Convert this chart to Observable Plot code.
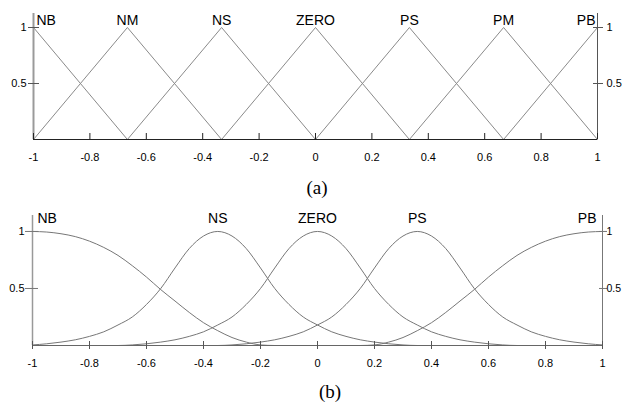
<!DOCTYPE html>
<html><head><meta charset="utf-8">
<script src="https://cdn.jsdelivr.net/npm/d3@7"></script>
<script src="https://cdn.jsdelivr.net/npm/@observablehq/plot@0.6"></script>
<style>
body{margin:0;background:#fff;}
#wrap{position:relative;width:622px;height:406px;overflow:hidden;font-family:"Liberation Sans",Arial,sans-serif;}
.panel{position:absolute;left:0;}
.cap{position:absolute;font-family:"Liberation Serif","Times New Roman",serif;font-size:19px;line-height:19px;color:#000;transform:translateX(-50%);white-space:nowrap}
</style></head><body>
<div id="wrap">
 <div class="panel" id="pa" style="top:0"></div>
 <div class="cap" style="top:178px;left:317px">(a)</div>
 <div class="panel" id="pb" style="top:206px"></div>
 <div class="cap" style="top:382px;left:330px">(b)</div>
</div>
<script>
// ---- shared ticks ----
const xTicks = [-1, -0.8, -0.6, -0.4, -0.2, 0, 0.2, 0.4, 0.6, 0.8, 1];
const xTickLabels = ["-1", "-0.8", "-0.6", "-0.4", "-0.2", "0", "0.2", "0.4", "0.6", "0.8", "1"];
const yTicks = [0.5, 1];
const yTickLabels = ["0.5", "1"];

// ---- panel (a): triangular membership functions ----
const aNames = ["NB", "NM", "NS", "ZERO", "PS", "PM", "PB"];
const aLeft  = [null, -1, -0.667, -0.333, 0, 0.333, 0.667];
const aPeak  = [-1, -0.667, -0.333, 0, 0.333, 0.667, 1];
const aRight = [-0.667, -0.333, 0, 0.333, 0.667, 1, null];

// ---- panel (b): smooth membership functions ----
const bNames = ["NB", "NS", "ZERO", "PS", "PB"];
const bPeak  = [-1, -0.35, 0, 0.35, 1];
const bX = [-1,-0.95,-0.9,-0.85,-0.8,-0.75,-0.7,-0.65,-0.6,-0.55,-0.5,-0.45,-0.4,-0.35,-0.3,-0.25,-0.2,-0.15,-0.1,-0.05,0,
            0.05,0.1,0.15,0.2,0.25,0.3,0.35,0.4,0.45,0.5,0.55,0.6,0.65,0.7,0.75,0.8,0.85,0.9,0.95,1];
const bNB   = [1,0.995,0.98,0.955,0.915,0.86,0.79,0.7,0.6,0.49,0.39,0.29,0.2,0.13,0.07,0.03,0.005,0,0,0,0,
               0,0,0,0,0,0,0,0,0,0,0,0,0,0,0,0,0,0,0,0];
const bNS   = [0.005,0.015,0.03,0.05,0.08,0.12,0.18,0.25,0.36,0.5,0.68,0.85,0.96,1,0.96,0.85,0.68,0.5,0.36,0.25,0.18,
               0.12,0.08,0.05,0.03,0.015,0.005,0,0,0,0,0,0,0,0,0,0,0,0,0,0];
const bZERO = [0,0,0,0,0,0,0,0.005,0.015,0.03,0.05,0.08,0.12,0.18,0.25,0.36,0.5,0.68,0.85,0.96,1,
               0.96,0.85,0.68,0.5,0.36,0.25,0.18,0.12,0.08,0.05,0.03,0.015,0.005,0,0,0,0,0,0,0];
const bPS   = [0,0,0,0,0,0,0,0,0,0,0,0,0,0,0.005,0.015,0.03,0.05,0.08,0.12,0.18,
               0.25,0.36,0.5,0.68,0.85,0.96,1,0.96,0.85,0.68,0.5,0.36,0.25,0.18,0.12,0.08,0.05,0.03,0.015,0.005];
const bPB   = [0,0,0,0,0,0,0,0,0,0,0,0,0,0,0,0,0,0,0,0,0,
               0,0,0,0.005,0.03,0.07,0.13,0.2,0.29,0.39,0.49,0.6,0.7,0.79,0.86,0.915,0.955,0.98,0.995,1];

// build rows
const rowsA = [];
aNames.forEach((n, i) => {
  if (aLeft[i] !== null) rowsA.push({name: n, x: aLeft[i], y: 0});
  rowsA.push({name: n, x: aPeak[i], y: 1});
  if (aRight[i] !== null) rowsA.push({name: n, x: aRight[i], y: 0});
});
const bSeries = {NB: bNB, NS: bNS, ZERO: bZERO, PS: bPS, PB: bPB};
const rowsB = [];
bNames.forEach(n => bX.forEach((x, j) => rowsB.push({name: n, x, y: bSeries[n][j]})));

const labA = aNames.map((n, i) => ({name: n, x: aPeak[i], y: 1}));
const labB = bNames.map((n, i) => ({name: n, x: bPeak[i], y: 1}));

const fx = d => xTickLabels[xTicks.indexOf(d)];
const fy = d => yTickLabels[yTicks.indexOf(d)];
const font = '"Liberation Sans", Arial, sans-serif';

function labels(rows, dyv, dxStart, dxEnd, dxMid) {
  const last = rows.length - 1;
  return [
    Plot.text(rows.filter((d, i) => i === 0), {x: "x", y: "y", text: "name", textAnchor: "start", lineAnchor: "bottom", dx: dxStart, dy: dyv, fontSize: 14, fill: "#000"}),
    Plot.text(rows.filter((d, i) => i > 0 && i < last), {x: "x", y: "y", text: "name", textAnchor: "middle", lineAnchor: "bottom", dx: dxMid, dy: dyv, fontSize: 14, fill: "#000"}),
    Plot.text(rows.filter((d, i) => i === last), {x: "x", y: "y", text: "name", textAnchor: "end", lineAnchor: "bottom", dx: dxEnd, dy: dyv, fontSize: 14, fill: "#000"})
  ];
}

const chartA = Plot.plot({
  width: 622, height: 170,
  marginLeft: 33, marginRight: 25, marginTop: 13, marginBottom: 31,
  style: {fontFamily: font, fontSize: "11px", color: "#000", background: "transparent", overflow: "visible"},
  x: {domain: [-1, 1]},
  y: {domain: [0, 1.125]},
  marks: [
    Plot.line(rowsA, {x: "x", y: "y", z: "name", stroke: "#8a8a8a", strokeWidth: 1}),
    Plot.ruleY([0], {stroke: "#222"}),
    Plot.ruleX([-1], {stroke: "#9a9a9a", strokeWidth: 2}),
    Plot.ruleX([1], {stroke: "#555"}),
    Plot.axisX({ticks: xTicks, tickFormat: fx, tickSize: 6, dy: -6, tickPadding: 14, label: null, stroke: "#222"}),
    Plot.axisY({anchor: "left", ticks: yTicks, tickFormat: fy, tickSize: 11, dx: 6, tickPadding: 2, label: null, stroke: "#555"}),
    Plot.axisY({anchor: "right", ticks: yTicks, tickFormat: fy, tickSize: 10, dx: -5, tickPadding: 4, label: null, stroke: "#555"}),
    ...labels(labA, -3, 3, -2, 0)
  ]
});
document.getElementById("pa").appendChild(chartA);

const chartB = Plot.plot({
  width: 622, height: 170,
  marginLeft: 32, marginRight: 20, marginTop: 9, marginBottom: 31,
  style: {fontFamily: font, fontSize: "11px", color: "#000", background: "transparent", overflow: "visible"},
  x: {domain: [-1, 1]},
  y: {domain: [0, 1.14]},
  marks: [
    Plot.line(rowsB, {x: "x", y: "y", z: "name", stroke: "#777", strokeWidth: 1, curve: "monotone-x"}),
    Plot.ruleY([0], {stroke: "#666"}),
    Plot.ruleX([-1], {stroke: "#999", strokeWidth: 1.5}),
    Plot.ruleX([1], {stroke: "#777"}),
    Plot.axisX({ticks: xTicks, tickFormat: fx, tickSize: 8, dy: -4, tickPadding: 10, label: null, stroke: "#555"}),
    Plot.axisY({anchor: "left", ticks: yTicks, tickFormat: fy, tickSize: 13, dx: 6, tickPadding: 1, label: null, stroke: "#777"}),
    Plot.axisY({anchor: "right", ticks: yTicks, tickFormat: fy, tickSize: 8, dx: -4, tickPadding: 0, label: null, stroke: "#777", fontSize: 10.5}),
    ...labels(labB, -8, 5, -6, 0)
  ]
});
document.getElementById("pb").appendChild(chartB);
</script>
</body></html>
